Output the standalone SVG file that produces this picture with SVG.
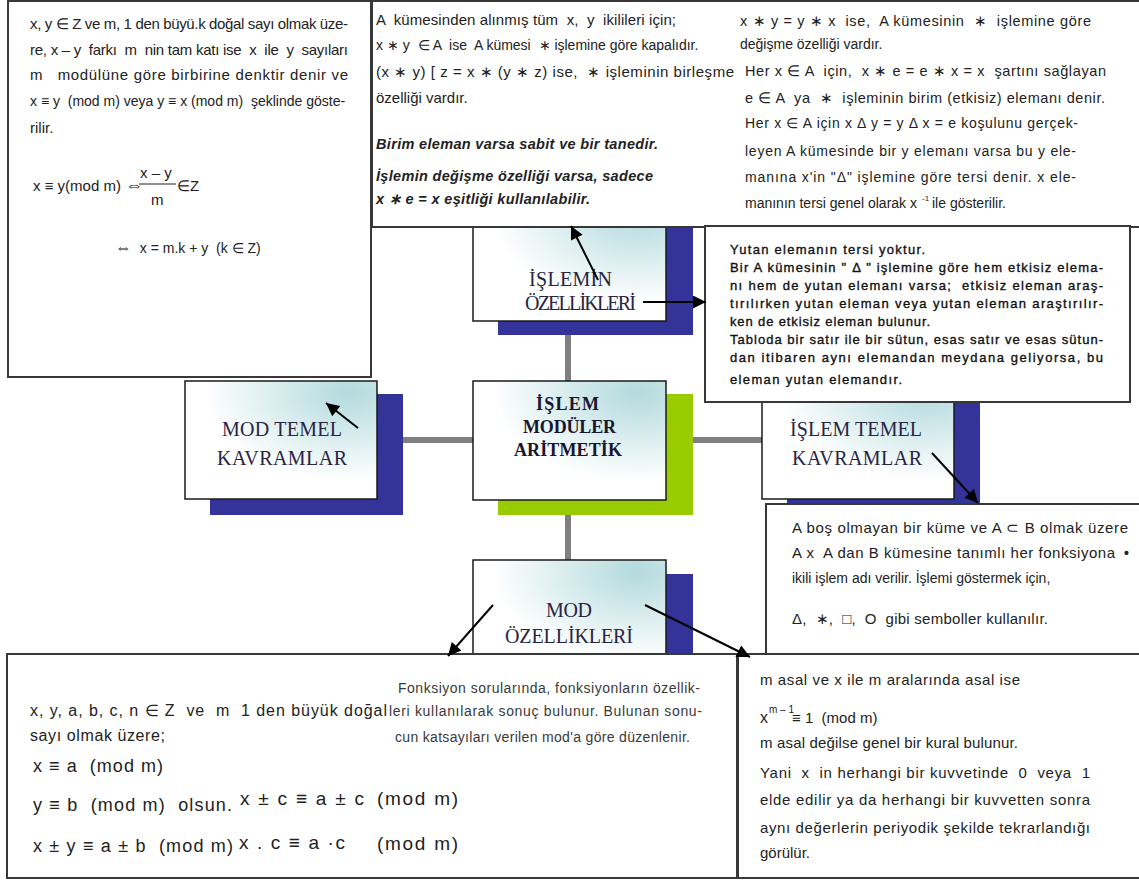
<svg xmlns="http://www.w3.org/2000/svg" width="1139" height="881" viewBox="0 0 1139 881" xml:space="preserve">
<defs>
<radialGradient id="g" cx="0.85" cy="0.1" r="1" gradientUnits="objectBoundingBox">
<stop offset="0" stop-color="#b3dadd"/>
<stop offset="0.75" stop-color="#ffffff"/>
</radialGradient>
<marker id="ah" viewBox="0 0 10 10" refX="10" refY="5" markerWidth="16" markerHeight="13" markerUnits="userSpaceOnUse" orient="auto">
<path d="M0,0 L10,5 L0,10 z" fill="#000"/>
</marker>
<style>
text{white-space:pre}
.box{fill:#fff;stroke:#383838;stroke-width:2}
.node{fill:url(#g);stroke:#1a1a1a;stroke-width:1.5}
.sh{fill:#333399}
.shg{fill:#99cc00}
.t{font-family:"Liberation Sans",Arial,sans-serif;font-size:14px;fill:#222}
.tb{font-family:"Liberation Sans",Arial,sans-serif;font-size:13px;fill:#111;stroke:#111;stroke-width:0.35}
.bi{font-family:"Liberation Sans",Arial,sans-serif;font-size:14.5px;fill:#222;font-weight:bold;font-style:italic}
.m{font-family:"Liberation Sans",Arial,sans-serif;font-size:18px;fill:#222}
.g{font-family:"Liberation Sans",Arial,sans-serif;font-size:14px;fill:#3a3a3a}
.n{font-family:"Liberation Serif","Times New Roman",serif;font-size:20px;fill:#2a2444}
.nb{font-family:"Liberation Serif","Times New Roman",serif;font-size:18px;fill:#1a1630;font-weight:bold}
.conn{stroke:#808080;stroke-width:6;fill:none}
.arr{stroke:#000;stroke-width:2;fill:none;marker-end:url(#ah)}
</style>
</defs>
<rect x="0" y="0" width="1139" height="881" fill="#fff"/>

<g id="connectors">
<line class="conn" x1="403" y1="440" x2="473" y2="440"/>
<line class="conn" x1="693" y1="440" x2="762" y2="440"/>
<line class="conn" x1="568" y1="335" x2="568" y2="381"/>
<line class="conn" x1="568" y1="515" x2="568" y2="560"/>
</g>

<g id="node-islemin-ozellikleri">
<rect class="sh" x="498" y="216" width="195" height="119"/>
<rect class="node" x="473" y="203" width="193" height="118"/>
<text class="n" x="529" y="286" textLength="83">İŞLEMİN</text>
<text class="n" x="525" y="310" textLength="111">ÖZELLİKLERİ</text>
</g>

<g id="node-mod-temel">
<rect class="sh" x="210" y="394" width="193" height="121"/>
<rect class="node" x="185" y="381" width="192" height="118"/>
<text class="n" x="222" y="436" textLength="120">MOD TEMEL</text>
<text class="n" x="217" y="465" textLength="130">KAVRAMLAR</text>
</g>

<g id="node-center">
<rect class="shg" x="498" y="394" width="195" height="121"/>
<rect class="node" x="473" y="381" width="193" height="119"/>
<text class="nb" x="536" y="410" textLength="63">İŞLEM</text>
<text class="nb" x="523" y="433" textLength="93">MODÜLER</text>
<text class="nb" x="514" y="456" textLength="108">ARİTMETİK</text>
</g>

<g id="node-islem-temel">
<rect class="sh" x="787" y="394" width="193" height="121"/>
<rect class="node" x="762" y="381" width="192" height="118"/>
<text class="n" x="790" y="436" textLength="132">İŞLEM TEMEL</text>
<text class="n" x="792" y="465" textLength="130">KAVRAMLAR</text>
</g>

<g id="node-mod-ozellikleri">
<rect class="sh" x="498" y="574" width="195" height="121"/>
<rect class="node" x="473" y="560" width="193" height="118"/>
<text class="n" x="546" y="617" textLength="46">MOD</text>
<text class="n" x="505" y="643" textLength="128">ÖZELLİKLERİ</text>
</g>

<g id="box-mod-tanim">
<rect class="box" x="8" y="1" width="363" height="376"/>
<text class="t" style="font-size:15px" x="30" y="29" textLength="318">x, y ∈ Z ve m, 1 den büyü.k doğal sayı olmak üze-</text>
<text class="t" style="font-size:15px" x="30" y="55" textLength="318">re, x – y  farkı  m  nin tam katı ise  x  ile  y  sayıları</text>
<text class="t" style="font-size:15px" x="30" y="80" textLength="318">m   modülüne göre birbirine denktir denir ve</text>
<text class="t" x="30" y="106">x ≡ y  (mod m) veya y ≡ x (mod m)  şeklinde göste-</text>
<text class="t" style="font-size:15px" x="30" y="133">rilir.</text>
<text class="t" style="font-size:15px" x="33" y="191">x ≡ y(mod m) <tspan style="font-size:18px">⇔</tspan></text>
<text class="t" style="font-size:15px" x="140" y="178">x – y</text>
<line x1="139" y1="184" x2="176" y2="184" stroke="#222" stroke-width="1"/>
<text class="t" style="font-size:15px" x="151" y="205">m</text>
<text class="t" style="font-size:15px" x="177" y="191">∈Z</text>
<text class="t" x="115" y="253"><tspan style="font-size:17px">⇔</tspan>  x = m.k + y  (k ∈ Z)</text>
</g>

<g id="box-islem-ozellik">
<rect class="box" x="372" y="1" width="770" height="226"/>
<text class="t" style="font-size:15px" x="376" y="25" textLength="300">A  kümesinden alınmış tüm  x,  y  ikilileri için;</text>
<text class="t" x="376" y="50">x ∗ y  ∈ A  ise  A kümesi  ∗ işlemine göre kapalıdır.</text>
<text class="t" style="font-size:15px" x="376" y="77" textLength="358">(x ∗ y) [ z = x ∗ (y ∗ z) ise,  ∗ işleminin birleşme</text>
<text class="t" style="font-size:15px" x="376" y="103">özelliği vardır.</text>
<text class="bi" x="376" y="149" textLength="282">Birim eleman varsa sabit ve bir tanedir.</text>
<text class="bi" x="376" y="181" textLength="277">İşlemin değişme özelliği varsa, sadece</text>
<text class="bi" x="376" y="204" textLength="214">x ∗ e = x eşitliği kullanılabilir.</text>
</g>

<g id="box-degisme-birim">
<text class="t" style="font-size:14.5px" x="740" y="26" textLength="351">x ∗ y = y ∗ x  ise,  A kümesinin  ∗  işlemine göre</text>
<text class="t" x="740" y="49">değişme özelliği vardır.</text>
<text class="t" style="font-size:14.5px" x="745" y="76" textLength="361">Her x ∈ A  için,  x ∗ e = e ∗ x = x  şartını sağlayan</text>
<text class="t" style="font-size:14.5px" x="745" y="103" textLength="360">e ∈ A  ya  ∗  işleminin birim (etkisiz) elemanı denir.</text>
<text class="t" x="745" y="128" textLength="333">Her x ∈ A için x Δ y = y Δ x = e koşulunu gerçek-</text>
<text class="t" x="745" y="156" textLength="331">leyen A kümesinde bir y elemanı varsa bu y ele-</text>
<text class="t" x="745" y="182" textLength="331">manına x'in "Δ" işlemine göre tersi denir. x ele-</text>
<text class="t" x="745" y="208">manının tersi genel olarak x</text>
<text class="t" style="font-size:8px" x="922" y="201">-1</text>
<text class="t" x="932" y="208">ile gösterilir.</text>
</g>

<g id="box-yutan">
<rect class="box" x="705" y="226" width="425" height="176"/>
<text class="tb" x="730" y="254" textLength="195">Yutan elemanın tersi yoktur.</text>
<text class="tb" x="730" y="272" textLength="373">Bir A kümesinin " Δ " işlemine göre hem etkisiz elema-</text>
<text class="tb" x="730" y="290" textLength="373">nı hem de yutan elemanı varsa;  etkisiz eleman araş-</text>
<text class="tb" x="730" y="308" textLength="373">tırılırken yutan eleman veya yutan eleman araştırılır-</text>
<text class="tb" x="730" y="326" textLength="200">ken de etkisiz eleman bulunur.</text>
<text class="tb" x="730" y="344" textLength="373">Tabloda bir satır ile bir sütun, esas satır ve esas sütun-</text>
<text class="tb" x="730" y="362" textLength="373">dan itibaren aynı elemandan meydana geliyorsa, bu</text>
<text class="tb" x="730" y="384" textLength="172">eleman yutan elemandır.</text>
</g>

<g id="box-ikili-islem">
<rect class="box" x="766" y="504" width="380" height="150"/>
<text class="t" style="font-size:15px" x="792" y="533" textLength="336">A boş olmayan bir küme ve A ⊂ B olmak üzere</text>
<text class="t" style="font-size:15px" x="792" y="558" textLength="323">A x  A dan B kümesine tanımlı her fonksiyona</text>
<text class="t" style="font-size:14px;font-weight:bold" x="1124" y="558">•</text>
<text class="t" x="792" y="583">ikili işlem adı verilir. İşlemi göstermek için,</text>
<text class="t" style="font-size:15px" x="792" y="624" textLength="256">Δ,  ∗,  □,  O  gibi semboller kullanılır.</text>
</g>

<g id="box-mod-ozellik">
<rect class="box" x="7" y="654" width="730" height="224"/>
<text class="t" style="font-size:16px" x="30" y="716" textLength="357">x, y, a, b, c, n ∈ Z  ve  m  1 den büyük doğal</text>
<text class="t" style="font-size:16px" x="30" y="741" textLength="135">sayı olmak üzere;</text>
<text class="g" x="398" y="693" textLength="302">Fonksiyon sorularında, fonksiyonların özellik-</text>
<text class="g" x="389" y="716" textLength="313">leri kullanılarak sonuç bulunur. Bulunan sonu-</text>
<text class="g" x="395" y="742" textLength="295">cun katsayıları verilen mod'a göre düzenlenir.</text>
<text class="m" x="33" y="772" textLength="130">x ≡ a  (mod m)</text>
<text class="m" x="33" y="811" textLength="199">y ≡ b  (mod m)  olsun.</text>
<text class="m" style="font-size:19px" x="240" y="805" textLength="124">x ± c ≡ a ± c</text>
<text class="m" style="font-size:19px" x="377" y="805" textLength="81">(mod m)</text>
<text class="m" x="33" y="852" textLength="200">x ± y ≡ a ± b  (mod m)</text>
<text class="m" style="font-size:19px" x="239" y="849" textLength="106">x . c ≡ a ·c</text>
<text class="m" style="font-size:19px" x="377" y="850" textLength="81">(mod m)</text>
</g>

<g id="box-fermat">
<rect class="box" x="738" y="654" width="410" height="224"/>
<text class="t" style="font-size:15px" x="760" y="685" textLength="260">m asal ve x ile m aralarında asal ise</text>
<text class="t" style="font-size:16px" x="760" y="723">x</text>
<text class="t" style="font-size:10px" x="769" y="713">m – 1</text>
<text class="t" style="font-size:15px" x="792" y="723">≡ 1  (mod m)</text>
<text class="t" style="font-size:15px" x="760" y="748" textLength="258">m asal değilse genel bir kural bulunur.</text>
<text class="t" style="font-size:15px" x="760" y="778" textLength="330">Yani  x  in herhangi bir kuvvetinde  0  veya  1</text>
<text class="t" style="font-size:15px" x="760" y="805" textLength="330">elde edilir ya da herhangi bir kuvvetten sonra</text>
<text class="t" style="font-size:15px" x="760" y="833" textLength="330">aynı değerlerin periyodik şekilde tekrarlandığı</text>
<text class="t" style="font-size:15px" x="760" y="858">görülür.</text>
</g>

<g id="arrow-connectors">
<line class="arr" x1="358" y1="428" x2="326" y2="403"/>
<line class="arr" x1="598" y1="280" x2="571" y2="226"/>
<line class="arr" x1="643" y1="302" x2="706" y2="302"/>
<line class="arr" x1="932" y1="453" x2="978" y2="503"/>
<line class="arr" x1="493" y1="605" x2="448" y2="656"/>
<line class="arr" x1="645" y1="605" x2="750" y2="657"/>
</g>
</svg>
